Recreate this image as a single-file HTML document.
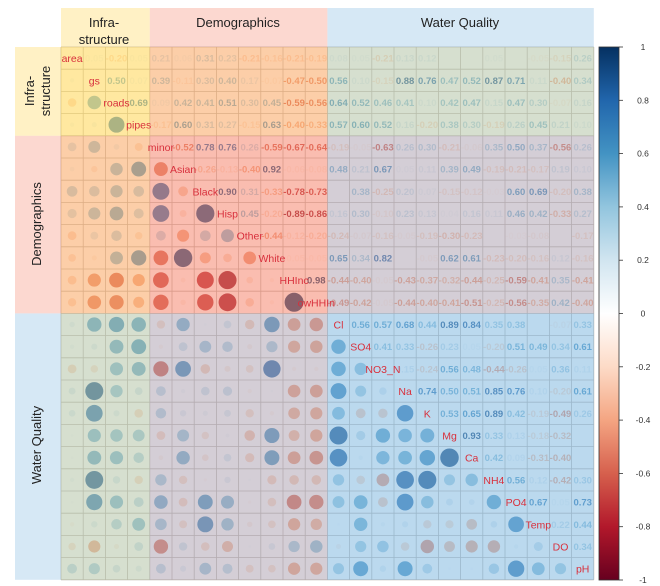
<!DOCTYPE html>
<html><head><meta charset="utf-8"><style>
html,body{margin:0;padding:0;background:#fff;}
svg{display:block;font-family:"Liberation Sans",sans-serif;}
</style></head><body>
<svg id="chart" width="660" height="586" viewBox="0 0 660 586"></svg>
<script>
const variables=["area","gs","roads","pipes","minor","Asian","Black","Hisp","Other","White","HHInc","lowHHInc","Cl","SO4","NO3_N","Na","K","Mg","Ca","NH4","PO4","Temp","DO","pH"];
const displayLabels=["area","gs","roads","pipes","minor","Asian","Black","Hisp","Other","White","HHInc","owHHIn","Cl","SO4","NO3_N","Na","K","Mg","Ca","NH4","PO4","Temp","DO","pH"];
// upper triangle rows (values to the right of the diagonal)
const r0=[0.05,-0.20,0.05,0.21,0.06,0.31,0.23,-0.21,-0.16,-0.21,-0.19,0.08,0.05,-0.21,0.13,0.12,0.02,0.02,0.05,0.02,-0.05,-0.15,0.26];
const r1=[0.50,0.07,0.39,-0.11,0.30,0.40,0.17,-0.07,-0.47,-0.50,0.56,0.10,-0.15,0.88,0.76,0.47,0.52,0.87,0.71,0.11,-0.40,0.34];
const r2=[0.69,0.09,0.42,0.41,0.51,0.30,0.45,-0.59,-0.56,0.64,0.52,0.46,0.41,0.10,0.42,0.47,0.15,0.47,0.30,-0.07,0.16];
const r3=[-0.17,0.60,0.31,0.27,-0.15,0.63,-0.40,-0.33,0.57,0.60,0.52,0.16,-0.20,0.38,0.30,-0.19,0.26,0.45,0.21,0.10];
const r4=[-0.52,0.78,0.76,0.26,-0.59,-0.67,-0.64,-0.19,-0.05,-0.63,0.26,0.30,-0.21,-0.06,0.35,0.50,0.37,-0.56,0.26];
const r5=[-0.26,-0.13,-0.40,0.92,-0.06,-0.08,0.48,0.21,0.67,0.05,0.11,0.39,0.49,-0.19,-0.21,-0.17,0.19,0.10];
const r6=[0.90,0.31,-0.33,-0.78,-0.73,0.02,0.38,-0.25,0.20,0.07,-0.15,-0.12,-0.03,0.60,0.69,-0.20,0.38];
const r7=[0.45,-0.20,-0.89,-0.86,0.16,0.30,-0.10,0.23,0.13,0.04,0.16,0.11,0.46,0.42,-0.33,0.27];
const r8=[-0.44,-0.12,-0.20,-0.24,-0.07,-0.16,-0.05,-0.19,-0.30,-0.23,0.02,-0.03,-0.08,0.02,-0.17];
const r9=[-0.05,-0.05,0.65,0.34,0.82,0.02,-0.05,0.62,0.61,-0.23,-0.20,-0.16,0.12,-0.16];
const r10=[0.98,-0.44,-0.40,-0.05,-0.43,-0.37,-0.32,-0.44,-0.25,-0.59,-0.41,0.35,-0.41];
const r11=[-0.49,-0.42,-0.05,-0.44,-0.40,-0.41,-0.51,-0.25,-0.56,-0.35,0.42,-0.40];
const r12=[0.56,0.57,0.68,0.44,0.89,0.84,0.35,0.38,0.02,-0.07,0.33];
const r13=[0.41,0.33,-0.26,0.23,0.05,-0.20,0.51,0.49,0.34,0.61];
const r14=[0.15,-0.24,0.56,0.48,-0.44,-0.26,0.05,0.36,0.11];
const r15=[0.74,0.50,0.51,0.85,0.76,0.10,-0.20,0.61];
const r16=[0.53,0.65,0.89,0.42,-0.19,-0.49,0.26];
const r17=[0.93,0.33,0.13,-0.18,-0.32,0.02];
const r18=[0.42,0.09,-0.31,-0.40,0.02];
const r19=[0.56,0.12,-0.42,0.30];
const r20=[0.67,0.05,0.73];
const r21=[0.22,0.44];
const r22=[0.34];
const upperRows=[r0,r1,r2,r3,r4,r5,r6,r7,r8,r9,r10,r11,r12,r13,r14,r15,r16,r17,r18,r19,r20,r21,r22];
const colorbarTicks=[1,0.8,0.6,0.4,0.2,0,-0.2,-0.4,-0.6,-0.8,-1];

const NS="http://www.w3.org/2000/svg";
const svg=document.getElementById('chart');
const N=variables.length, X0=61, Y0=47, CS=22.2;
const colX=i=>X0+i*CS, rowY=i=>Y0+i*CS;
const stops=["#67001F","#B2182B","#D6604D","#F4A582","#FDDBC7","#FFFFFF","#D1E5F0","#92C5DE","#4393C3","#2166AC","#053061"];
function hex(h){return [1,3,5].map(k=>parseInt(h.substr(k,2),16));}
function col(v){const t=(Math.max(-1,Math.min(1,v))+1)/2*10;const i=Math.min(9,Math.floor(t)),f=t-i;const a=hex(stops[i]),b=hex(stops[i+1]);return `rgb(${a.map((x,k)=>Math.round(x+(b[k]-x)*f)).join(',')})`;}
function mk(tag,attrs,parent){const e=document.createElementNS(NS,tag);for(const k in attrs)e.setAttribute(k,attrs[k]);(parent||svg).appendChild(e);return e;}
function corr(i,j){if(i===j)return 1;const a=Math.min(i,j),b=Math.max(i,j);return upperRows[a][b-a-1];}

// grid
const g=mk('g',{});


for(let i=0;i<=N;i++){
  mk('line',{x1:colX(0),x2:colX(N),y1:rowY(i),y2:rowY(i),stroke:'#b9b3ad','stroke-width':0.8},g);
  mk('line',{y1:rowY(0),y2:rowY(N),x1:colX(i),x2:colX(i),stroke:'#b9b3ad','stroke-width':0.8},g);
}
// circles and coefficients (below overlays)
for(let i=0;i<N;i++){for(let j=0;j<N;j++){
  if(i===j)continue;
  const v=corr(i,j);
  const cx=colX(j)+CS/2, cy=rowY(i)+CS/2;
  if(j<i){
    const c=mk('circle',{cx:cx,cy:cy,r:9.6*Math.sqrt(Math.abs(v)),fill:col(v)});
    
    
  } else if(Math.abs(v)>=0.03){
    const t=mk('text',{x:cx,y:cy+3.5,'text-anchor':'middle','font-size':9.5,'font-weight':'bold',fill:col(v)});
    t.textContent=v.toFixed(2);
    
    
  }
}}
// group overlays
const groups=[{name:'infrastructure',a:0,b:4,c:'rgba(255,215,95,0.36)'},{name:'demographics',a:4,b:12,c:'rgba(245,135,110,0.32)'},{name:'water-quality',a:12,b:24,c:'rgba(135,188,225,0.34)'}];
groups.forEach(gr=>{
  const cb=mk('rect',{x:colX(gr.a),y:8,width:colX(gr.b)-colX(gr.a),height:rowY(N)-8,fill:gr.c});
  
  
  const rb=mk('rect',{x:15,y:rowY(gr.a),width:colX(N)-15,height:rowY(gr.b)-rowY(gr.a),fill:gr.c});
  
  
});
// diagonal labels (above overlays)
for(let i=0;i<N;i++){
  const t=mk('text',{x:colX(i)+CS/2,y:rowY(i)+CS/2+4,'text-anchor':'middle','font-size':10.5,fill:'#d8303c'});
  t.textContent=displayLabels[i];
  
  
}
// headers
function txt(x,y,s,name,extra){const t=mk('text',Object.assign({x:x,y:y,'text-anchor':'middle','font-size':13,fill:'#222'},extra||{}));t.textContent=s;return t;}
txt(104,27,'Infra-','top-header-infra-1');
txt(104,44,'structure','top-header-infra-2');
txt(238,27,'Demographics','top-header-demographics');
txt(460,27,'Water Quality','top-header-water-quality');
txt(0,0,'Infra-','side-header-infra-1',{transform:'translate(34,91) rotate(-90)'});
txt(0,0,'structure','side-header-infra-2',{transform:'translate(50,91) rotate(-90)'});
txt(0,0,'Demographics','side-header-demographics',{transform:'translate(41,224) rotate(-90)'});
txt(0,0,'Water Quality','side-header-water-quality',{transform:'translate(41,445) rotate(-90)'});
// colorbar
const defs=mk('defs',{});
const lg=mk('linearGradient',{id:'cbg',x1:0,y1:1,x2:0,y2:0},defs);
stops.forEach((s,k)=>mk('stop',{offset:k/10,'stop-color':s},lg));
const CB0=47,CB1=580;
const cbY=v=>CB0+(1-v)/2*(CB1-CB0);
const cb=mk('rect',{x:599,y:CB0,width:20,height:CB1-CB0,fill:'url(#cbg)',stroke:'#333','stroke-width':0.8});


colorbarTicks.forEach(v=>{
  mk('line',{x1:619,x2:623,y1:cbY(v),y2:cbY(v),stroke:'#333','stroke-width':0.8});
  const t=mk('text',{x:643,y:cbY(v)+3,'text-anchor':'middle','font-size':8.5,fill:'#333'});
  t.textContent=String(v);
  
  
});
</script>
</body></html>
